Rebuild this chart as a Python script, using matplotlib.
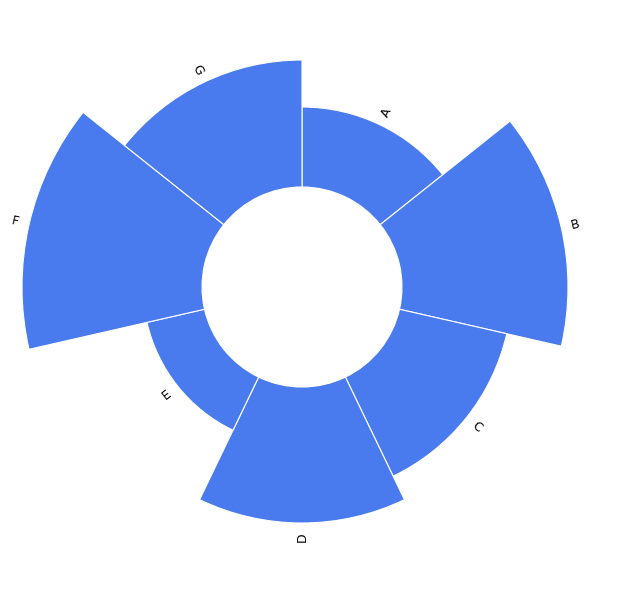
import numpy as np
import matplotlib.pyplot as plt

# categories and bar lengths (radial units, inner hole = 100)
categories = ["A", "B", "C", "D", "E", "F", "G"]
values = [80, 166, 110, 136, 59, 180, 127]
inner_radius = 100

bar_color = "#4a7bee"

fig = plt.figure(figsize=(6.21, 6.06), dpi=100)
# axes in pixel-like units: centre at (302, 287) from top-left, radius 300
ax = fig.add_axes([2 / 621, 19 / 606, 600 / 621, 600 / 606], projection="polar")
ax.set_theta_zero_location("N")
ax.set_theta_direction(-1)
ax.set_ylim(0, 300)
ax.axis("off")

n = len(categories)
width = 2 * np.pi / n
theta = np.arange(n) * width + width / 2

ax.bar(theta, values, width=width, bottom=inner_radius, color=bar_color,
       edgecolor="white", linewidth=0.8, align="center")

# labels just outside each bar, oriented along the radius
for t, cat, v in zip(theta, categories, values):
    deg = np.degrees(t)
    rot = 90 - deg if deg < 180 else 270 - deg
    ax.text(t, inner_radius + v + 14, cat, rotation=rot, rotation_mode="anchor",
            ha="center", va="center", fontsize=9, color="black")

fig.savefig("out.png", dpi=100)
